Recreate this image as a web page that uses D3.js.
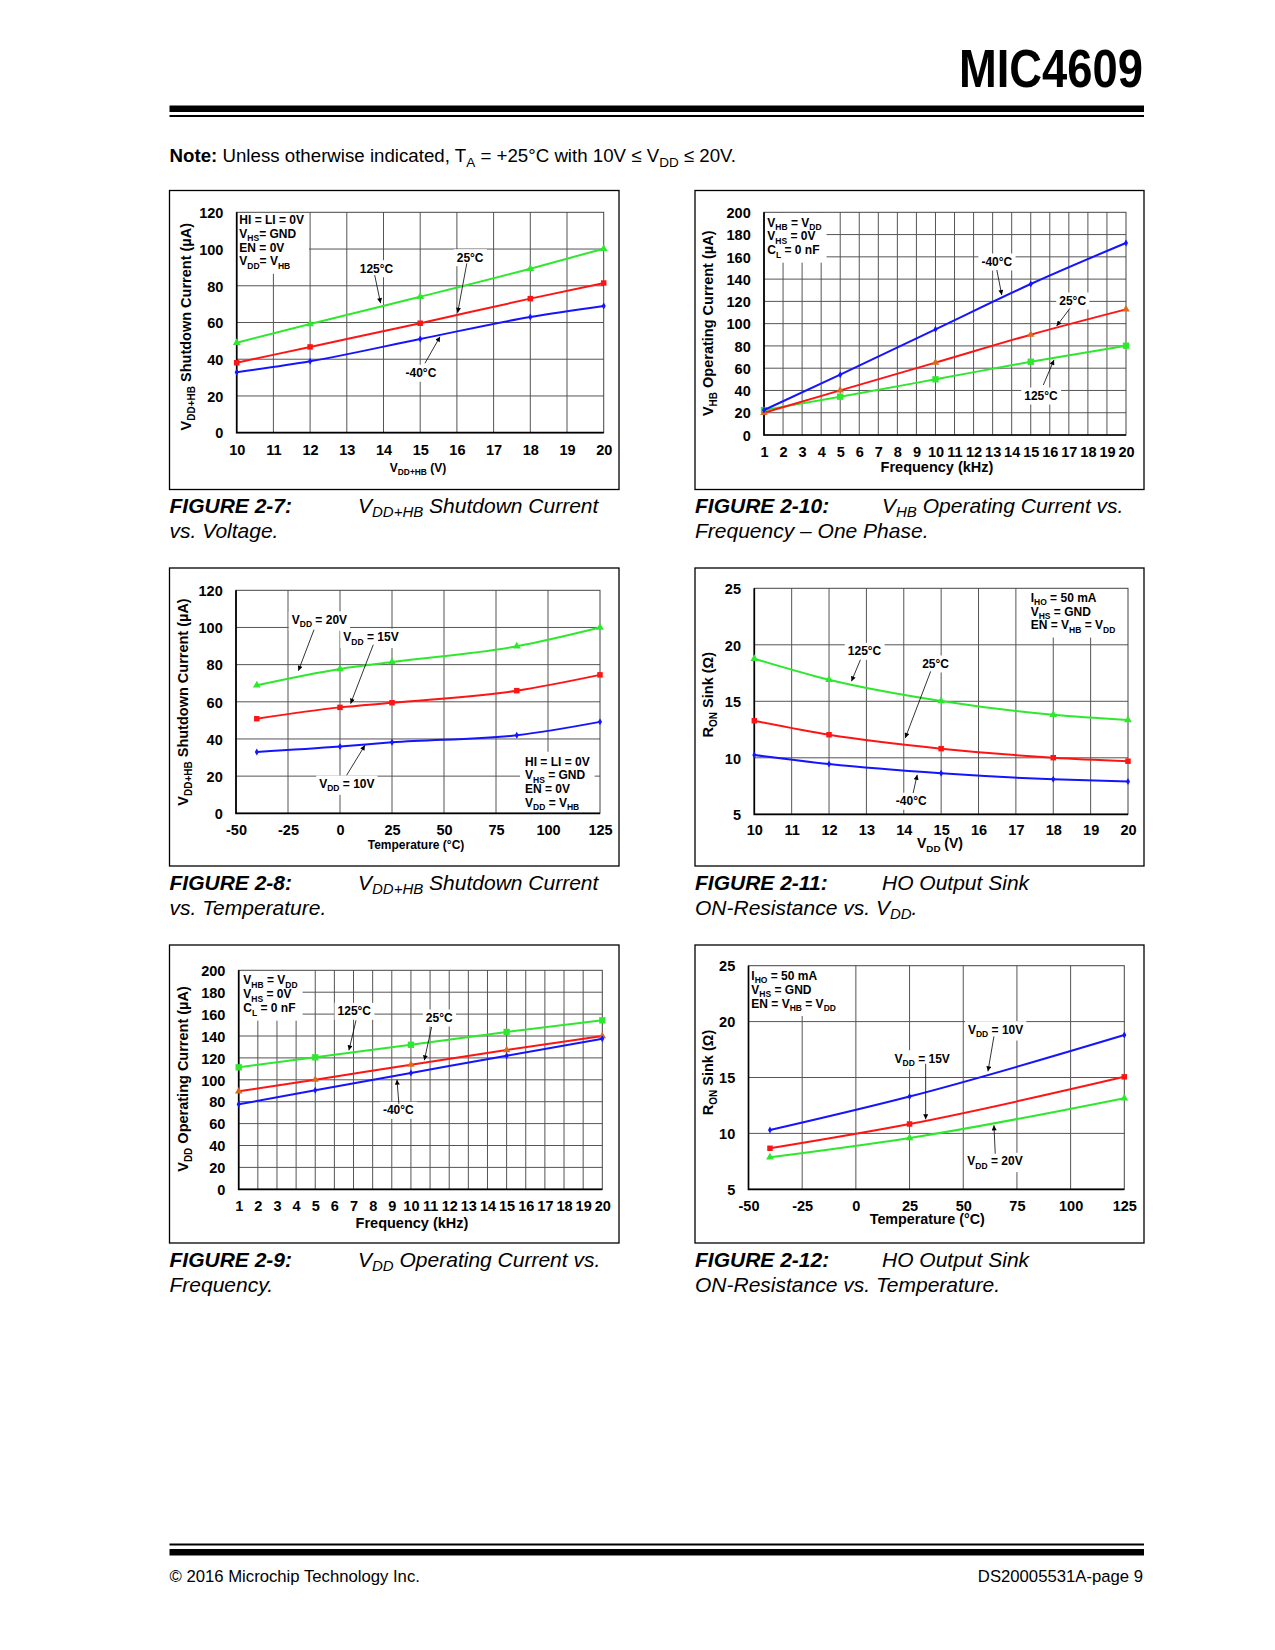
<!DOCTYPE html>
<html>
<head>
<meta charset="utf-8">
<script src="https://cdn.jsdelivr.net/npm/d3@7"></script>
<style>
  body { margin: 0; background: #fff; }
  svg { display: block; }
  text { font-family: "Liberation Sans", Arial, Helvetica, sans-serif; fill: #000; }
</style>
</head>
<body>
<svg id="page" width="1275" height="1650"></svg>
<script>
// FIGURE 2-7: VDD+HB shutdown current vs. voltage
var fig7Vdd = [10, 12, 15, 18, 20];
var fig7Tm40 = [32.9, 38.9, 51.0, 63.0, 69.0];
var fig7T25 = [38.1, 46.7, 59.6, 73.0, 81.5];
var fig7T125 = [49.0, 59.2, 74.0, 89.3, 100.2];
var fig7XTicks = [10, 11, 12, 13, 14, 15, 16, 17, 18, 19, 20];
var fig7YTicks = [0, 20, 40, 60, 80, 100, 120];

// FIGURE 2-10: VHB operating current vs. frequency
var fig10Freq = [1, 5, 10, 15, 20];
var fig10Tm40 = [22.4, 54.2, 94.9, 135.6, 172.5];
var fig10T25 = [20.0, 40.1, 65.0, 90.1, 112.8];
var fig10T125 = [22.4, 34.4, 50.0, 65.8, 80.2];
var fig10XTicks = [1, 2, 3, 4, 5, 6, 7, 8, 9, 10, 11, 12, 13, 14, 15, 16, 17, 18, 19, 20];
var fig10YTicks = [0, 20, 40, 60, 80, 100, 120, 140, 160, 180, 200];

// FIGURE 2-8: VDD+HB shutdown current vs. temperature
var fig8Temp = [-40, 0, 25, 85, 125];
var fig8Vdd20 = [68.9, 77.7, 81.4, 89.9, 100.0];
var fig8Vdd15 = [50.9, 57.0, 59.5, 66.0, 74.5];
var fig8Vdd10 = [33.0, 35.9, 38.2, 42.0, 49.2];
var fig8XTicks = [-50, -25, 0, 25, 50, 75, 100, 125];
var fig8YTicks = [0, 20, 40, 60, 80, 100, 120];

// FIGURE 2-11: HO output sink on-resistance vs. VDD
var fig11Vdd = [10, 12, 15, 18, 20];
var fig11T125 = [18.77, 16.91, 15.03, 13.81, 13.35];
var fig11T25 = [13.28, 12.04, 10.81, 10.01, 9.7];
var fig11Tm40 = [10.25, 9.45, 8.63, 8.10, 7.9];
var fig11XTicks = [10, 11, 12, 13, 14, 15, 16, 17, 18, 19, 20];
var fig11YTicks = [5, 10, 15, 20, 25];

// FIGURE 2-9: VDD operating current vs. frequency
var fig9Freq = [1, 5, 10, 15, 20];
var fig9T125 = [111.4, 120.5, 132.0, 143.7, 154.3];
var fig9T25 = [89.5, 100.1, 113.8, 127.2, 140.0];
var fig9Tm40 = [77.6, 90.4, 106.2, 122.0, 137.5];
var fig9XTicks = [1, 2, 3, 4, 5, 6, 7, 8, 9, 10, 11, 12, 13, 14, 15, 16, 17, 18, 19, 20];
var fig9YTicks = [0, 20, 40, 60, 80, 100, 120, 140, 160, 180, 200];

// FIGURE 2-12: HO output sink on-resistance vs. temperature
var fig12Temp = [-40, 25, 125];
var fig12Vdd10 = [10.3, 13.3, 18.8];
var fig12Vdd15 = [8.67, 10.84, 15.06];
var fig12Vdd20 = [7.86, 9.59, 13.15];
var fig12XTicks = [-50, -25, 0, 25, 50, 75, 100, 125];
var fig12YTicks = [5, 10, 15, 20, 25];

var GREEN = '#2ee82e', RED = '#ff1414', BLUE = '#1414ff', ORANGE = '#d96a1e';
var svg = d3.select('#page');

svg.append('defs').append('marker')
    .attr('id', 'arrow')
    .attr('viewBox', '0 0 10 10')
    .attr('refX', 10).attr('refY', 5)
    .attr('markerWidth', 6).attr('markerHeight', 5)
    .attr('markerUnits', 'userSpaceOnUse')
    .attr('orient', 'auto')
    .append('path').attr('d', 'M0,0 L10,5 L0,10 Z').attr('fill', '#000');

// "V_{DD} = 10V" -> tspans with subscripts
function richText(sel, str, size, subSize, shiftRatio) {
    var parts = str.split(/_\{([^}]*)\}/);
    var shift = size * (shiftRatio || 0.28);
    var down = false;
    parts.forEach(function (part, i) {
        if (i % 2 === 1) {
            sel.append('tspan').attr('font-size', subSize).attr('dy', down ? 0 : shift).text(part);
            down = true;
        } else if (part !== '') {
            sel.append('tspan').attr('dy', down ? -shift : 0).text(part);
            down = false;
        }
    });
}

function whiteBox(layer, nodes, padX, padY) {
    var x0 = Infinity, y0 = Infinity, x1 = -Infinity, y1 = -Infinity;
    nodes.forEach(function (n) {
        var b = n.getBBox();
        x0 = Math.min(x0, b.x); y0 = Math.min(y0, b.y);
        x1 = Math.max(x1, b.x + b.width); y1 = Math.max(y1, b.y + b.height);
    });
    layer.append('rect')
        .attr('x', x0 - padX).attr('y', y0 - padY)
        .attr('width', x1 - x0 + 2 * padX).attr('height', y1 - y0 + 2 * padY)
        .attr('fill', '#fff');
}

function drawChart(cfg) {
    var p = cfg.plot;
    var x = d3.scaleLinear().domain(cfg.xDomain).range([p[0], p[2]]);
    var y = d3.scaleLinear().domain(cfg.yDomain).range([p[3], p[1]]);
    var g = svg.append('g');

    g.append('rect')
        .attr('x', cfg.box[0]).attr('y', cfg.box[1])
        .attr('width', cfg.box[2] - cfg.box[0]).attr('height', cfg.box[3] - cfg.box[1])
        .attr('fill', 'none').attr('stroke', '#000').attr('stroke-width', 1.3);

    var grid = g.append('g').attr('stroke', '#555').attr('stroke-width', 1);
    grid.selectAll('.gx').data(cfg.xTicks.slice(1, -1)).enter().append('line')
        .attr('x1', function (d) { return x(d); }).attr('x2', function (d) { return x(d); })
        .attr('y1', p[1]).attr('y2', p[3]);
    grid.selectAll('.gy').data(cfg.yTicks.slice(1, -1)).enter().append('line')
        .attr('x1', p[0]).attr('x2', p[2])
        .attr('y1', function (d) { return y(d); }).attr('y2', function (d) { return y(d); });

    var bgLayer = g.append('g');

    g.append('rect')
        .attr('x', p[0]).attr('y', p[1]).attr('width', p[2] - p[0]).attr('height', p[3] - p[1])
        .attr('fill', 'none').attr('stroke', '#444').attr('stroke-width', 1);
    g.append('path')
        .attr('d', 'M' + p[0] + ',' + p[1] + 'V' + p[3] + 'H' + p[2])
        .attr('fill', 'none').attr('stroke', '#000').attr('stroke-width', 1.7);

    // tick labels
    var xAxis = g.append('g').attr('transform', 'translate(0,' + p[3] + ')')
        .call(d3.axisBottom(x).tickValues(cfg.xTicks).tickSize(0).tickFormat(String));
    xAxis.select('.domain').remove();
    xAxis.selectAll('text')
        .attr('y', cfg.xTickOffset || 22).attr('dy', null)
        .attr('font-size', 14.5).attr('font-weight', 'bold')
        .attr('font-family', '"Liberation Sans", Arial, sans-serif');

    var yAxis = g.append('g').attr('transform', 'translate(' + p[0] + ',0)')
        .call(d3.axisLeft(y).tickValues(cfg.yTicks).tickSize(0).tickFormat(String));
    yAxis.select('.domain').remove();
    yAxis.selectAll('text')
        .attr('x', -13.3).attr('dy', '0.36em')
        .attr('font-size', 14.5).attr('font-weight', 'bold')
        .attr('font-family', '"Liberation Sans", Arial, sans-serif');

    // axis titles
    var xt = g.append('text')
        .attr('x', cfg.xTitleAt[0]).attr('y', cfg.xTitleAt[1])
        .attr('text-anchor', 'middle').attr('font-weight', 'bold')
        .attr('font-size', cfg.xTitleSize);
    richText(xt, cfg.xTitle, cfg.xTitleSize, cfg.xTitleSize * 0.7);

    var yt = g.append('text')
        .attr('x', cfg.yTitleAt[0]).attr('y', cfg.yTitleAt[1])
        .attr('transform', 'rotate(-90,' + cfg.yTitleAt[0] + ',' + cfg.yTitleAt[1] + ')')
        .attr('text-anchor', 'middle').attr('font-weight', 'bold')
        .attr('font-size', 14.5);
    richText(yt, cfg.yTitle, 14.5, 10);

    // curves and markers
    var line = d3.line()
        .curve(d3.curveMonotoneX)
        .x(function (d) { return x(d[0]); })
        .y(function (d) { return y(d[1]); });

    cfg.series.forEach(function (s) {
        var pts = cfg.xs.map(function (v, i) { return [v, s.values[i]]; });
        g.append('path').datum(pts)
            .attr('d', line)
            .attr('fill', 'none').attr('stroke', s.color).attr('stroke-width', 2);
        g.selectAll(null).data(pts).enter().append('path')
            .attr('transform', function (d) { return 'translate(' + x(d[0]) + ',' + y(d[1]) + ')'; })
            .attr('d', d3.symbol().type(s.symbol).size(s.size))
            .attr('fill', s.marker || s.color);
    });

    // curve labels with leader arrows
    cfg.labels.forEach(function (l) {
        var t = g.append('text')
            .attr('x', x(l.x)).attr('y', y(l.y))
            .attr('text-anchor', l.anchor || 'middle')
            .attr('font-size', 12).attr('font-weight', 'bold');
        richText(t, l.text, 12, 8.5);
        whiteBox(bgLayer, [t.node()], 3, 1.5);
        g.append('line')
            .attr('x1', x(l.from[0])).attr('y1', y(l.from[1]))
            .attr('x2', x(l.to[0])).attr('y2', y(l.to[1]))
            .attr('stroke', '#000').attr('stroke-width', 0.8)
            .attr('marker-end', 'url(#arrow)');
    });

    // test conditions block
    var c = cfg.cond;
    var cx = (c.corner === 'tl' ? p[0] : p[2]) + c.dx;
    var cy = (c.corner === 'br' ? p[3] : p[1]) + c.dy;
    var nodes = c.lines.map(function (txt, i) {
        var t = g.append('text')
            .attr('x', cx).attr('y', cy + i * c.step)
            .attr('font-size', 12).attr('font-weight', 'bold');
        richText(t, txt, 12, 8.5);
        return t.node();
    });
    whiteBox(bgLayer, nodes, 5, 3);
}

function drawCaption(x0, x1, base, fig, line1, line2) {
    svg.append('text')
        .attr('x', x0).attr('y', base)
        .attr('font-size', 21).attr('font-style', 'italic').attr('font-weight', 'bold')
        .text(fig);
    var t1 = svg.append('text').attr('x', x1).attr('y', base)
        .attr('font-size', 21).attr('font-style', 'italic');
    richText(t1, line1, 21, 15, 0.2);
    var t2 = svg.append('text').attr('x', x0).attr('y', base + 25)
        .attr('font-size', 21).attr('font-style', 'italic');
    richText(t2, line2, 21, 15, 0.2);
}

// page header
svg.append('text')
    .attr('x', 1143).attr('y', 87)
    .attr('text-anchor', 'end')
    .attr('font-size', 53).attr('font-weight', 'bold')
    .attr('textLength', 184).attr('lengthAdjust', 'spacingAndGlyphs')
    .text('MIC4609');
svg.append('rect').attr('x', 169.5).attr('y', 105.5).attr('width', 974.5).attr('height', 6.5).attr('fill', '#000');
svg.append('rect').attr('x', 169.5).attr('y', 115).attr('width', 974.5).attr('height', 2).attr('fill', '#000');

var note = svg.append('text').attr('x', 169.5).attr('y', 162).attr('font-size', 18.7);
note.append('tspan').attr('font-weight', 'bold').text('Note:');
richText(note, ' Unless otherwise indicated, T_{A} = +25°C with 10V ≤ V_{DD} ≤ 20V.', 18.7, 13.5, 0.25);

var LEFT_BOX = [169.5, 619], RIGHT_BOX = [695, 1144];
var ROW1 = [190.5, 489.5], ROW2 = [568, 866], ROW3 = [945, 1243];

drawChart({
    box: [LEFT_BOX[0], ROW1[0], LEFT_BOX[1], ROW1[1]],
    plot: [236.7, 212.3, 603.7, 432.7],
    xDomain: [10, 20], yDomain: [0, 120],
    xTicks: fig7XTicks, yTicks: fig7YTicks,
    xTitle: 'V_{DD+HB} (V)', xTitleSize: 12, xTitleAt: [418, 471.5],
    yTitle: 'V_{DD+HB} Shutdown Current (µA)', yTitleAt: [191, 326.7],
    xs: fig7Vdd,
    series: [
        { values: fig7T125, color: GREEN, symbol: d3.symbolTriangle, size: 26 },
        { values: fig7T25, color: RED, symbol: d3.symbolSquare, size: 30 },
        { values: fig7Tm40, color: BLUE, symbol: d3.symbolDiamond, size: 14 }
    ],
    labels: [
        { text: '125°C', x: 13.81, y: 87.1, from: [13.76, 85.8], to: [13.92, 70.5] },
        { text: '25°C', x: 16.36, y: 93.1, from: [16.27, 92.2], to: [16.02, 65.3] },
        { text: '-40°C', x: 15.02, y: 30.2, from: [15.13, 37.8], to: [15.54, 52.3] }
    ],
    cond: { corner: 'tl', dx: 2.6, dy: 11.4, step: 13.9,
        lines: ['HI = LI = 0V', 'V_{HS}= GND', 'EN = 0V', 'V_{DD}= V_{HB}'] }
});

drawChart({
    box: [RIGHT_BOX[0], ROW1[0], RIGHT_BOX[1], ROW1[1]],
    plot: [764, 212.3, 1126, 435],
    xDomain: [1, 20], yDomain: [0, 200],
    xTicks: fig10XTicks, yTicks: fig10YTicks,
    xTitle: 'Frequency (kHz)', xTitleSize: 14.5, xTitleAt: [937, 472],
    yTitle: 'V_{HB} Operating Current (µA)', yTitleAt: [713, 323.3],
    xs: fig10Freq,
    series: [
        { values: fig10T125, color: GREEN, symbol: d3.symbolSquare, size: 40 },
        { values: fig10T25, color: RED, symbol: d3.symbolTriangle, size: 24, marker: ORANGE },
        { values: fig10Tm40, color: BLUE, symbol: d3.symbolDiamond, size: 14 }
    ],
    labels: [
        { text: '-40°C', x: 13.22, y: 151.8, from: [13.22, 148.2], to: [13.48, 125.7] },
        { text: '25°C', x: 17.2, y: 116.7, from: [17.06, 113.8], to: [16.36, 97.9] },
        { text: '125°C', x: 15.54, y: 31.4, from: [15.66, 44.9], to: [16.22, 67.4] }
    ],
    cond: { corner: 'tl', dx: 3.3, dy: 14.2, step: 13.9,
        lines: ['V_{HB} = V_{DD}', 'V_{HS} = 0V', 'C_{L} = 0 nF'] }
});

drawChart({
    box: [LEFT_BOX[0], ROW2[0], LEFT_BOX[1], ROW2[1]],
    plot: [236, 590.3, 600, 813.3],
    xDomain: [-50, 125], yDomain: [0, 120],
    xTicks: fig8XTicks, yTicks: fig8YTicks, xTickOffset: 21.4,
    xTitle: 'Temperature (°C)', xTitleSize: 12, xTitleAt: [416, 849],
    yTitle: 'V_{DD+HB} Shutdown Current (µA)', yTitleAt: [188, 702],
    xs: fig8Temp,
    series: [
        { values: fig8Vdd20, color: GREEN, symbol: d3.symbolTriangle, size: 26 },
        { values: fig8Vdd15, color: RED, symbol: d3.symbolSquare, size: 30 },
        { values: fig8Vdd10, color: BLUE, symbol: d3.symbolDiamond, size: 14 }
    ],
    labels: [
        { text: 'V_{DD} = 20V', anchor: 'start', x: -23.2, y: 101.9, from: [-12.5, 98.8], to: [-20.0, 76.7] },
        { text: 'V_{DD} = 15V', anchor: 'start', x: 1.6, y: 92.6, from: [16.0, 90.7], to: [5.1, 59.0] },
        { text: 'V_{DD} = 10V', anchor: 'start', x: -10, y: 13.6, from: [3.2, 20.5], to: [12.0, 36.6] }
    ],
    cond: { corner: 'br', dx: -75, dy: -47.6, step: 13.7,
        lines: ['HI = LI = 0V', 'V_{HS} = GND', 'EN = 0V', 'V_{DD} = V_{HB}'] }
});

drawChart({
    box: [RIGHT_BOX[0], ROW2[0], RIGHT_BOX[1], ROW2[1]],
    plot: [754.3, 588.3, 1128, 814.3],
    xDomain: [10, 20], yDomain: [5, 25],
    xTicks: fig11XTicks, yTicks: fig11YTicks, xTickOffset: 21,
    xTitle: 'V_{DD} (V)', xTitleSize: 14, xTitleAt: [940, 848],
    yTitle: 'R_{ON} Sink (Ω)', yTitleAt: [713, 694.7],
    xs: fig11Vdd,
    series: [
        { values: fig11T125, color: GREEN, symbol: d3.symbolTriangle, size: 26 },
        { values: fig11T25, color: RED, symbol: d3.symbolSquare, size: 30 },
        { values: fig11Tm40, color: BLUE, symbol: d3.symbolDiamond, size: 14 }
    ],
    labels: [
        { text: '125°C', x: 12.95, y: 19.07, from: [12.84, 18.68], to: [12.6, 16.77] },
        { text: '25°C', x: 14.85, y: 17.95, from: [14.72, 17.65], to: [14.04, 11.75] },
        { text: '-40°C', x: 14.2, y: 5.8, from: [14.25, 6.88], to: [14.36, 8.5] }
    ],
    cond: { corner: 'tr', dx: -97.3, dy: 13.7, step: 13.6,
        lines: ['I_{HO} = 50 mA', 'V_{HS} = GND', 'EN = V_{HB} = V_{DD}'] }
});

drawChart({
    box: [LEFT_BOX[0], ROW3[0], LEFT_BOX[1], ROW3[1]],
    plot: [238.7, 970.3, 602.3, 1189.3],
    xDomain: [1, 20], yDomain: [0, 200],
    xTicks: fig9XTicks, yTicks: fig9YTicks,
    xTitle: 'Frequency (kHz)', xTitleSize: 14.5, xTitleAt: [412, 1227.5],
    yTitle: 'V_{DD} Operating Current (µA)', yTitleAt: [188, 1079],
    xs: fig9Freq,
    series: [
        { values: fig9T125, color: GREEN, symbol: d3.symbolSquare, size: 40 },
        { values: fig9T25, color: RED, symbol: d3.symbolTriangle, size: 24, marker: ORANGE },
        { values: fig9Tm40, color: BLUE, symbol: d3.symbolDiamond, size: 14 }
    ],
    labels: [
        { text: '125°C', x: 7.04, y: 158.9, from: [7.13, 154.3], to: [6.76, 126.9] },
        { text: '25°C', x: 11.48, y: 152.8, from: [11.08, 148.2], to: [10.7, 117.8] },
        { text: '-40°C', x: 9.34, y: 68.5, from: [9.37, 78.2], to: [9.27, 100.1] }
    ],
    cond: { corner: 'tl', dx: 4.6, dy: 14, step: 14,
        lines: ['V_{HB} = V_{DD}', 'V_{HS} = 0V', 'C_{L} = 0 nF'] }
});

drawChart({
    box: [RIGHT_BOX[0], ROW3[0], RIGHT_BOX[1], ROW3[1]],
    plot: [748.5, 965.7, 1124.3, 1189.3],
    xDomain: [-50, 125], yDomain: [5, 25],
    xTicks: fig12XTicks, yTicks: fig12YTicks, xTickOffset: 21.7,
    xTitle: 'Temperature (°C)', xTitleSize: 14.3, xTitleAt: [927.3, 1224],
    yTitle: 'R_{ON} Sink (Ω)', yTitleAt: [713, 1072.5],
    xs: fig12Temp,
    series: [
        { values: fig12Vdd20, color: GREEN, symbol: d3.symbolTriangle, size: 26 },
        { values: fig12Vdd15, color: RED, symbol: d3.symbolSquare, size: 30 },
        { values: fig12Vdd10, color: BLUE, symbol: d3.symbolDiamond, size: 14 }
    ],
    labels: [
        { text: 'V_{DD} = 10V', anchor: 'start', x: 52.2, y: 18.92, from: [64.3, 18.68], to: [61.5, 15.55] },
        { text: 'V_{DD} = 15V', anchor: 'start', x: 18.0, y: 16.32, from: [32.5, 16.23], to: [32.5, 11.26] },
        { text: 'V_{DD} = 20V', anchor: 'start', x: 51.9, y: 7.15, from: [64.9, 8.18], to: [64.3, 10.72] }
    ],
    cond: { corner: 'tl', dx: 2.8, dy: 14, step: 14,
        lines: ['I_{HO} = 50 mA', 'V_{HS} = GND', 'EN = V_{HB} = V_{DD}'] }
});

drawCaption(169.5, 358, 513, 'FIGURE 2-7:', 'V_{DD+HB} Shutdown Current', 'vs. Voltage.');
drawCaption(695, 882, 513, 'FIGURE 2-10:', 'V_{HB} Operating Current vs.', 'Frequency – One Phase.');
drawCaption(169.5, 358, 890, 'FIGURE 2-8:', 'V_{DD+HB} Shutdown Current', 'vs. Temperature.');
drawCaption(695, 882, 890, 'FIGURE 2-11:', 'HO Output Sink', 'ON-Resistance vs. V_{DD}.');
drawCaption(169.5, 358, 1266.5, 'FIGURE 2-9:', 'V_{DD} Operating Current vs.', 'Frequency.');
drawCaption(695, 882, 1266.5, 'FIGURE 2-12:', 'HO Output Sink', 'ON-Resistance vs. Temperature.');

// page footer
svg.append('rect').attr('x', 169.5).attr('y', 1543.5).attr('width', 974.5).attr('height', 2).attr('fill', '#000');
svg.append('rect').attr('x', 169.5).attr('y', 1549).attr('width', 974.5).attr('height', 6.5).attr('fill', '#000');
svg.append('text').attr('x', 169.5).attr('y', 1582).attr('font-size', 16.7)
    .text('© 2016 Microchip Technology Inc.');
svg.append('text').attr('x', 1143).attr('y', 1582).attr('font-size', 16.7)
    .attr('text-anchor', 'end')
    .text('DS20005531A-page 9');
</script>
</body>
</html>
